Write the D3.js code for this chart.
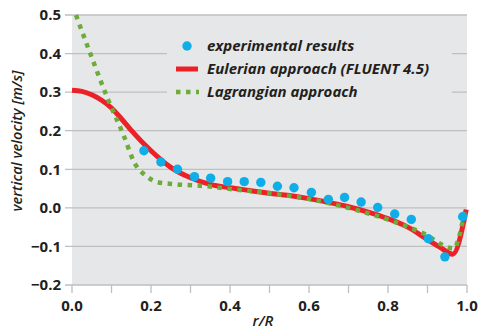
<!DOCTYPE html>
<html>
<head>
<meta charset="utf-8">
<script src="https://cdn.jsdelivr.net/npm/d3@7"></script>
<style>
  body { margin: 0; background: #fff; }
  text { font-family: "Open Sans", sans-serif; fill: #231f20; }
</style>
</head>
<body>
<script>
// experimental results
const expR = [0.182, 0.225, 0.267, 0.310, 0.351, 0.394, 0.436, 0.478, 0.520, 0.562,
              0.606, 0.649, 0.690, 0.732, 0.774, 0.817, 0.859, 0.902, 0.944, 0.989];
const expV = [0.148, 0.119, 0.100, 0.081, 0.077, 0.068, 0.068, 0.066, 0.056, 0.052,
              0.040, 0.022, 0.027, 0.015, 0.001, -0.016, -0.030, -0.080, -0.127, -0.023];

// Eulerian approach (FLUENT 4.5)
const eulR = [0, 0.025, 0.05, 0.075, 0.1, 0.125, 0.15, 0.2, 0.25, 0.3, 0.35, 0.4, 0.45, 0.5, 0.55,
              0.6, 0.65, 0.7, 0.75, 0.8, 0.85, 0.9, 0.93, 0.964, 0.998];
const eulV = [0.305, 0.302, 0.293, 0.279, 0.259, 0.231, 0.201, 0.148, 0.105, 0.078, 0.061, 0.052, 0.045, 0.038, 0.032,
              0.024, 0.014, 0.003, -0.011, -0.028, -0.050, -0.082, -0.101, -0.120, -0.004];

// Lagrangian approach
const lagR = [0.01, 0.05, 0.092, 0.13, 0.159, 0.189, 0.215, 0.265, 0.341, 0.409,
              0.5, 0.594, 0.721, 0.805, 0.889, 0.966, 0.995];
const lagV = [0.5, 0.39, 0.279, 0.19, 0.115, 0.082, 0.067, 0.061, 0.056, 0.048,
              0.038, 0.024, -0.006, -0.032, -0.066, -0.105, -0.004];

const xTicks = [0, 0.1, 0.2, 0.3, 0.4, 0.5, 0.6, 0.7, 0.8, 0.9, 1.0];
const yTicks = [-0.2, -0.1, 0, 0.1, 0.2, 0.3, 0.4, 0.5];
const legendLabels = ["experimental results", "Eulerian approach (FLUENT 4.5)", "Lagrangian approach"];

const width = 480, height = 331;
const margin = {top: 15, right: 13, bottom: 46, left: 72};

const blue = "#10aee8", red = "#ec2127", green = "#6dab3a";
const bg = "#e6e7e8", grid = "#bdbfc1";

let svg = d3.select("body").append("svg")
    .attr("width", width)
    .attr("height", height);

let xScale = d3.scaleLinear()
    .domain([0, 1])
    .range([margin.left, width - margin.right]);
let yScale = d3.scaleLinear()
    .domain([-0.2, 0.5])
    .range([height - margin.bottom, margin.top]);

svg.append("rect")
  .attr("x", xScale(0))
  .attr("y", yScale(0.5))
  .attr("width", xScale(1) - xScale(0))
  .attr("height", yScale(-0.2) - yScale(0.5))
  .attr("fill", bg);

// gridlines (they stick out a bit on the left like ticks)
svg.append("g")
  .selectAll("line")
  .data(yTicks)
  .enter()
  .append("line")
  .attr("x1", xScale(0) - 7)
  .attr("x2", xScale(1))
  .attr("y1", d => yScale(d))
  .attr("y2", d => yScale(d))
  .attr("stroke", grid)
  .attr("stroke-width", 1.3);

// y tick labels
svg.append("g")
  .selectAll("text")
  .data(yTicks)
  .enter()
  .append("text")
  .attr("x", xScale(0) - 11)
  .attr("y", d => yScale(d))
  .attr("dy", "0.35em")
  .attr("text-anchor", "end")
  .style("font-size", "15px")
  .style("font-weight", "bold")
  .text(d => d3.format(".1f")(d));

// x axis ticks
svg.append("g")
  .selectAll("line")
  .data(xTicks)
  .enter()
  .append("line")
  .attr("x1", d => xScale(d))
  .attr("x2", d => xScale(d))
  .attr("y1", yScale(-0.2))
  .attr("y2", yScale(-0.2) + 8)
  .attr("stroke", grid)
  .attr("stroke-width", 1.3);

svg.append("g")
  .selectAll("text")
  .data(xTicks.filter((d, i) => i % 2 === 0))
  .enter()
  .append("text")
  .attr("x", d => xScale(d))
  .attr("y", yScale(-0.2) + 26)
  .attr("text-anchor", "middle")
  .style("font-size", "15px")
  .style("font-weight", "bold")
  .text(d => d3.format(".1f")(d));

// axis titles
svg.append("text")
  .attr("x", 263)
  .attr("y", 326)
  .attr("text-anchor", "middle")
  .style("font-size", "15px")
  .style("font-weight", "600")
  .style("font-style", "italic")
  .text("r/R");

svg.append("text")
  .attr("transform", "translate(22,141) rotate(-90)")
  .attr("text-anchor", "middle")
  .style("font-size", "14.5px")
  .style("font-weight", "600")
  .style("font-style", "italic")
  .text("vertical velocity [m/s]");

let lineGen = d3.line()
    .x(d => xScale(d[0]))
    .y(d => yScale(d[1]))
    .curve(d3.curveMonotoneX);

// legend box hides gridlines behind it
svg.append("rect")
  .attr("x", 167)
  .attr("y", 24)
  .attr("width", 285)
  .attr("height", 86)
  .attr("fill", bg);

svg.append("path")
  .attr("d", lineGen(eulR.map((r, i) => [r, eulV[i]])))
  .attr("fill", "none")
  .attr("stroke", red)
  .attr("stroke-width", 5);

svg.append("path")
  .attr("d", lineGen(lagR.map((r, i) => [r, lagV[i]])))
  .attr("fill", "none")
  .attr("stroke", green)
  .attr("stroke-width", 4.5)
  .attr("stroke-dasharray", "4.5 5.5");

svg.append("g")
  .selectAll("circle")
  .data(expR.map((r, i) => [r, expV[i]]))
  .enter()
  .append("circle")
  .attr("cx", d => xScale(d[0]))
  .attr("cy", d => yScale(d[1]))
  .attr("r", 4.7)
  .attr("fill", blue);

// legend
let legend = svg.append("g");
let rowY = [46, 69, 92];
legend.append("circle")
  .attr("cx", 187).attr("cy", rowY[0]).attr("r", 4.7).attr("fill", blue);
legend.append("line")
  .attr("x1", 176).attr("x2", 198).attr("y1", rowY[1]).attr("y2", rowY[1])
  .attr("stroke", red).attr("stroke-width", 5);
legend.append("line")
  .attr("x1", 176).attr("x2", 199).attr("y1", rowY[2]).attr("y2", rowY[2])
  .attr("stroke", green).attr("stroke-width", 4.5)
  .attr("stroke-dasharray", "4.5 5.5");
legend.selectAll("text")
  .data(legendLabels)
  .enter()
  .append("text")
  .attr("x", 207)
  .attr("y", (d, i) => rowY[i])
  .attr("dy", "0.35em")
  .style("font-size", "15px")
  .style("font-weight", "bold")
  .style("font-style", "italic")
  .text(d => d);
</script>
</body>
</html>
